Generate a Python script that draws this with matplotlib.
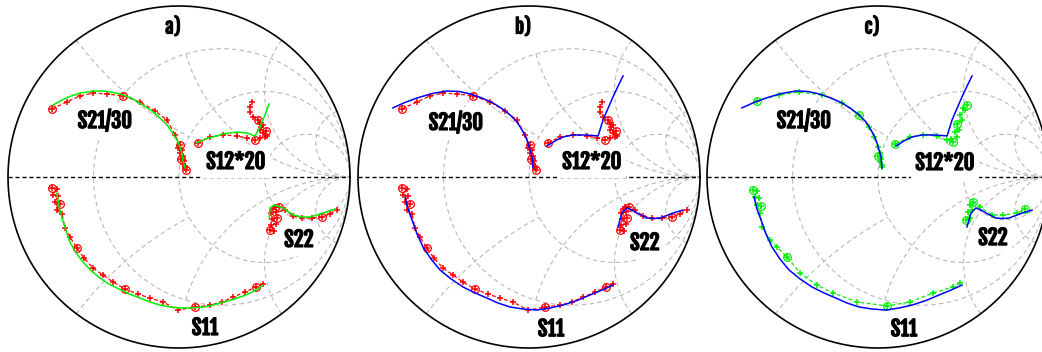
import numpy as np
import matplotlib
matplotlib.use("Agg")
import matplotlib.pyplot as plt
import matplotlib.patheffects as pe

# ---------------- data (reflection coefficient, real / imag) ----------------
# Panel a/b measured (red)
meas_s21_re = [-0.743, -0.655, -0.579, -0.503, -0.421, -0.328, -0.228, -0.140, -0.070, -0.023,
               0.006, -0.006, 0.018, 0.006, 0.023, 0.012, 0.029, 0.023, 0.035, 0.035, 0.041]
meas_s21_im = [0.398, 0.439, 0.474, 0.491, 0.486, 0.474, 0.439, 0.386, 0.333, 0.246,
               0.187, 0.170, 0.158, 0.140, 0.123, 0.105, 0.094, 0.076, 0.064, 0.053, 0.041]
meas_s12_re = [0.111, 0.181, 0.257, 0.339, 0.398, 0.445, 0.474, 0.503, 0.515, 0.491,
               0.509, 0.474, 0.491, 0.480, 0.474, 0.462, 0.433, 0.415, 0.415, 0.427]
meas_s12_im = [0.199, 0.234, 0.246, 0.240, 0.228, 0.216, 0.228, 0.234, 0.240, 0.257,
               0.269, 0.275, 0.304, 0.293, 0.316, 0.333, 0.351, 0.380, 0.409, 0.439]
meas_s22_re = [0.532, 0.556, 0.538, 0.567, 0.544, 0.573, 0.538, 0.567, 0.550, 0.562, 0.585,
               0.620, 0.667, 0.720, 0.778, 0.837, 0.883, 0.924]
meas_s22_im = [-0.310, -0.316, -0.281, -0.275, -0.246, -0.240, -0.211, -0.205, -0.187, -0.176,
               -0.176, -0.193, -0.228, -0.240, -0.240, -0.234, -0.216, -0.193]
meas_s11_re = [-0.743, -0.714, -0.737, -0.708, -0.725, -0.696, -0.714, -0.684, -0.667, -0.638,
               -0.597, -0.556, -0.503, -0.445, -0.386, -0.316, -0.240, -0.170, -0.094, -0.006,
               0.094, 0.181, 0.252, 0.316, 0.386, 0.450, 0.491]
meas_s11_im = [-0.064, -0.070, -0.105, -0.111, -0.146, -0.158, -0.193, -0.216, -0.298, -0.351,
               -0.415, -0.474, -0.532, -0.573, -0.614, -0.655, -0.684, -0.708, -0.731, -0.778,
               -0.761, -0.749, -0.731, -0.702, -0.673, -0.643, -0.626]

# Panel a model (green line)
mod_a_s21_re = [-0.737, -0.655, -0.579, -0.503, -0.445, -0.386, -0.328, -0.269, -0.211, -0.158,
                -0.111, -0.070, -0.041, -0.012, 0.006, 0.018, 0.023, 0.035]
mod_a_s21_im = [0.421, 0.465, 0.491, 0.502, 0.503, 0.495, 0.480, 0.456, 0.421, 0.386,
                0.345, 0.304, 0.263, 0.216, 0.176, 0.135, 0.099, 0.053]
mod_a_s12_re = [0.105, 0.152, 0.199, 0.257, 0.339, 0.398, 0.445, 0.474, 0.503, 0.527]
mod_a_s12_im = [0.199, 0.222, 0.234, 0.252, 0.263, 0.257, 0.240, 0.293, 0.363, 0.427]
mod_a_s22_re = [0.527, 0.532, 0.556, 0.608, 0.667, 0.720, 0.766, 0.842, 0.913]
mod_a_s22_im = [-0.240, -0.181, -0.164, -0.181, -0.222, -0.234, -0.234, -0.211, -0.187]
mod_a_s11_re = [-0.714, -0.702, -0.684, -0.661, -0.638, -0.602, -0.562, -0.515, -0.462, -0.415,
                -0.363, -0.298, -0.228, -0.170, -0.111, -0.053, 0.006, 0.070, 0.140, 0.193,
                0.240, 0.292, 0.339, 0.380, 0.415, 0.456, 0.491]
mod_a_s11_im = [-0.094, -0.170, -0.240, -0.313, -0.380, -0.444, -0.497, -0.547, -0.591, -0.623,
                -0.649, -0.681, -0.708, -0.731, -0.749, -0.760, -0.766, -0.766, -0.761, -0.751,
                -0.737, -0.723, -0.708, -0.694, -0.679, -0.657, -0.632]

# Panels b/c model (blue line)
mod_b_s21_re = [-0.796, -0.725, -0.655, -0.567, -0.480, -0.409, -0.345, -0.275, -0.211, -0.158,
                -0.111, -0.070, -0.041, -0.020, -0.006, 0.006, 0.018, 0.023]
mod_b_s21_im = [0.404, 0.436, 0.462, 0.488, 0.503, 0.500, 0.486, 0.462, 0.433, 0.400,
                0.363, 0.322, 0.275, 0.237, 0.199, 0.158, 0.117, 0.053]
mod_b_s12_re = [0.105, 0.152, 0.199, 0.257, 0.316, 0.368, 0.404, 0.433, 0.462, 0.491, 0.520, 0.550]
mod_b_s12_im = [0.181, 0.211, 0.234, 0.246, 0.246, 0.243, 0.240, 0.333, 0.401, 0.468, 0.530, 0.591]
mod_b_s22_re = [0.520, 0.532, 0.544, 0.573, 0.602, 0.632, 0.690, 0.731, 0.766, 0.842, 0.901]
mod_b_s22_im = [-0.292, -0.251, -0.211, -0.181, -0.193, -0.211, -0.240, -0.243, -0.240, -0.211, -0.193]
mod_b_s11_re = [-0.725, -0.708, -0.684, -0.655, -0.620, -0.573, -0.520, -0.456, -0.386, -0.316,
                -0.246, -0.181, -0.111, -0.035, 0.047, 0.123, 0.199, 0.281, 0.357, 0.427, 0.491]
mod_b_s11_im = [-0.117, -0.187, -0.251, -0.333, -0.409, -0.480, -0.544, -0.596, -0.643, -0.678,
                -0.708, -0.737, -0.760, -0.772, -0.778, -0.766, -0.749, -0.722, -0.690, -0.661, -0.632]

# Panel c measured (green markers)
meas_c_s21_re = [-0.708, -0.579, -0.462, -0.328, -0.211, -0.111, -0.053, -0.023, 0.000, 0.012,
                 0.000, 0.018, 0.012, 0.023, 0.023]
meas_c_s21_im = [0.444, 0.480, 0.497, 0.480, 0.433, 0.363, 0.292, 0.234, 0.175, 0.140,
                 0.123, 0.105, 0.088, 0.070, 0.058]
meas_c_s12_re = [0.099, 0.187, 0.263, 0.345, 0.404, 0.439, 0.427, 0.462, 0.450, 0.474, 0.462,
                 0.491, 0.480, 0.509, 0.497, 0.520]
meas_c_s12_im = [0.193, 0.234, 0.246, 0.240, 0.216, 0.205, 0.222, 0.234, 0.263, 0.275, 0.310,
                 0.333, 0.363, 0.392, 0.404, 0.421]
meas_c_s22_re = [0.515, 0.538, 0.526, 0.550, 0.538, 0.556, 0.596, 0.667, 0.731, 0.813, 0.860]
meas_c_s22_im = [-0.251, -0.240, -0.205, -0.193, -0.164, -0.146, -0.175, -0.222, -0.222, -0.211, -0.187]
meas_c_s11_re = [-0.731, -0.708, -0.720, -0.696, -0.708, -0.684, -0.690, -0.678, -0.632, -0.591,
                 -0.532, -0.456, -0.357, -0.263, -0.123, 0.053, 0.187, 0.322, 0.439, 0.480]
meas_c_s11_im = [-0.076, -0.082, -0.117, -0.123, -0.164, -0.170, -0.211, -0.292, -0.368, -0.409,
                 -0.468, -0.561, -0.632, -0.678, -0.731, -0.754, -0.731, -0.678, -0.643, -0.620]

panel_titles = ["a)", "b)", "c)"]
trace_labels = ["S21/30", "S12*20", "S22", "S11"]

# ---------------- layout ----------------
W, H = 1042, 352
fig = plt.figure(figsize=(W / 100, H / 100), dpi=100)
R = 171.0
CY = 177.0
centers = [179.0, 529.0, 878.0]
LIM = 1.03

FONT = dict(family=["Fjalla One", "Oswald", "DejaVu Sans"])
BOLDER = [pe.withStroke(linewidth=0.9, foreground="black")]

label_pos = [
    [(-0.433, 0.327), (0.333, 0.088), (0.702, -0.368), (0.152, -0.883)],
    [(-0.427, 0.316), (0.368, 0.088), (0.678, -0.386), (0.129, -0.890)],
    [(-0.433, 0.327), (0.392, 0.082), (0.673, -0.357), (0.152, -0.890)],
]
label_pad = [0.22, 0.22, 0.22, 0.05]
title_pos = (-0.035, 0.877)

GRID_C = "#b9b9b9"
GRID_LS = (0, (4, 3))


def gamma_of(z):
    return (z - 1) / (z + 1)


def draw_grid(ax):
    t = np.linspace(0, 2 * np.pi, 720)
    # constant-resistance circles
    for r in [1 / 3, 1.0, 3.0]:
        c = r / (1 + r)
        rad = 1 / (1 + r)
        ax.plot(c + rad * np.cos(t), rad * np.sin(t), color=GRID_C, lw=0.8, ls=GRID_LS, zorder=1)
    # constant-reactance arcs, each drawn between two resistance values
    for x, r0, r1 in [(0.5, 0.0, 1.0), (1.0, 1 / 3, 1e4), (2.0, 0.0, 1e4), (5.0, 0.0, 1e4)]:
        rr = np.concatenate([[r0], np.geomspace(max(r0, 1e-3), r1, 500)])
        for s in (1, -1):
            g = gamma_of(rr + 1j * s * x)
            ax.plot(g.real, g.imag, color=GRID_C, lw=0.8, ls=GRID_LS, zorder=1)
    ax.plot(np.cos(t), np.sin(t), color="black", lw=1.2, zorder=3.5, clip_on=False)
    ax.plot([-1, 1], [0, 0], color="black", lw=1.0, ls=(0, (3, 2)), zorder=2)


def draw_meas(ax, re, im, color):
    ax.plot(re, im, color=color, lw=0.9, ls=(0, (3, 2)), marker="+", ms=4.5, mew=1.1, zorder=4)
    ax.plot(re, im, color=color, lw=0, marker="o", ms=5.5, mfc="none", mew=0.9,
            markevery=5, zorder=4)


def draw_model(ax, re, im, color):
    ax.plot(re, im, color=color, lw=1.1, zorder=5)


meas_ab = [(meas_s21_re, meas_s21_im), (meas_s12_re, meas_s12_im),
           (meas_s22_re, meas_s22_im), (meas_s11_re, meas_s11_im)]
model_a = [(mod_a_s21_re, mod_a_s21_im), (mod_a_s12_re, mod_a_s12_im),
           (mod_a_s22_re, mod_a_s22_im), (mod_a_s11_re, mod_a_s11_im)]
model_b = [(mod_b_s21_re, mod_b_s21_im), (mod_b_s12_re, mod_b_s12_im),
           (mod_b_s22_re, mod_b_s22_im), (mod_b_s11_re, mod_b_s11_im)]
meas_c = [(meas_c_s21_re, meas_c_s21_im), (meas_c_s12_re, meas_c_s12_im),
          (meas_c_s22_re, meas_c_s22_im), (meas_c_s11_re, meas_c_s11_im)]

panels = [
    (meas_ab, "#ff0000", model_a, "#00f000"),
    (meas_ab, "#ff0000", model_b, "#0000ff"),
    (meas_c, "#00f000", model_b, "#0000ff"),
]

for i, cx in enumerate(centers):
    half = R * LIM
    ax = fig.add_axes([(cx - half) / W, (H - CY - half) / H, 2 * half / W, 2 * half / H])
    ax.set_xlim(-LIM, LIM)
    ax.set_ylim(-LIM, LIM)
    ax.set_aspect("equal")
    ax.axis("off")
    ax.patch.set_alpha(0)
    draw_grid(ax)
    meas, mcol, model, modcol = panels[i]
    for (re, im) in meas:
        draw_meas(ax, re, im, mcol)
    for (re, im) in model:
        draw_model(ax, re, im, modcol)
    for lab, (lx, ly), pad in zip(trace_labels, label_pos[i], label_pad):
        ax.text(lx, ly, lab, ha="center", va="center", fontsize=15, zorder=3,
                bbox=dict(boxstyle=f"square,pad={pad}", fc="white", ec="none"),
                path_effects=BOLDER, **FONT)
    ax.text(title_pos[0], title_pos[1], panel_titles[i], ha="center", va="center",
            fontsize=13.5, zorder=3, path_effects=BOLDER, **FONT)

fig.savefig("out.png", dpi=100, facecolor="white")
